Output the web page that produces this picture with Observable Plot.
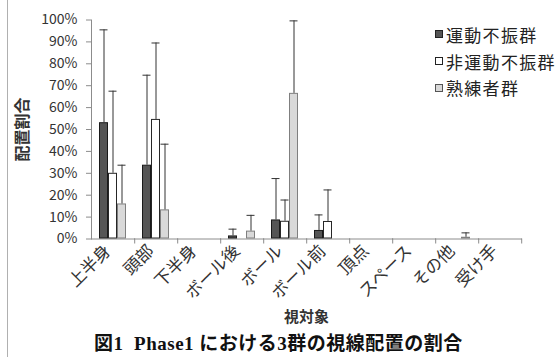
<!DOCTYPE html>
<html>
<head>
<meta charset="utf-8">
<script src="https://cdn.jsdelivr.net/npm/d3@7"></script>
<script src="https://cdn.jsdelivr.net/npm/@observablehq/plot@0.6"></script>
<style>
  html, body { margin: 0; padding: 0; background: #fff; }
  #wrap { position: relative; width: 557px; height: 357px; overflow: hidden; font-family: "Noto Sans CJK JP", "Noto Sans", sans-serif; }
  #edge { position: absolute; left: 7px; top: 0; width: 1px; height: 357px; background: #b0b0b0; }
  #chart { position: absolute; left: 0; top: 0; }
  #legend { position: absolute; left: 435px; top: 21px; font-size: 17px; letter-spacing: 1.3px; color: #222; white-space: nowrap; }
  #legend .item { display: flex; align-items: center; height: 26.7px; }
  #legend .sw { width: 8px; height: 8px; margin-right: 3px; box-sizing: border-box; flex: none; }
  #caption { position: absolute; left: 0; width: 557px; top: 328px; text-align: center; font-family: "Liberation Serif", "DejaVu Serif", "Noto Sans CJK JP", serif; font-weight: bold; font-size: 19px; letter-spacing: 0.5px; color: #111; white-space: nowrap; }
  g[aria-label="y-axis label"] text { font-weight: bold; font-size: 16px; }
  g[aria-label="fx-axis label"] text { font-weight: bold; font-family: "Liberation Serif", "Noto Sans CJK JP", serif; }
</style>
</head>
<body>
<div id="wrap">
  <div id="edge"></div>
  <div id="chart"></div>
  <div id="legend"></div>
  <div id="caption">図1&nbsp;&nbsp;Phase1 における3群の視線配置の割合</div>
</div>
<script>
const categories = ["上半身","頭部","下半身","ボール後","ボール","ボール前","頂点","スペース","その他","受け手"];
const groups = ["運動不振群","非運動不振群","熟練者群"];
// values in percent
const valuesG1 = [53.1, 33.7, 0, 1.4, 8.7, 3.9, 0, 0, 0, 0];
const valuesG2 = [30.0, 54.6, 0, 0, 8.1, 8.0, 0, 0, 0, 0];
const valuesG3 = [16.0, 13.3, 0, 3.6, 66.5, 0, 0, 0, 0.8, 0];
// upper error magnitudes in percent
const errorsG1 = [42.4, 41.1, 0, 3.1, 18.9, 7.1, 0, 0, 0, 0];
const errorsG2 = [37.5, 34.9, 0, 0, 9.7, 14.4, 0, 0, 0, 0];
const errorsG3 = [17.7, 30.0, 0, 7.2, 33.1, 0, 0, 0, 2.0, 0];
const yTicks = [0, 10, 20, 30, 40, 50, 60, 70, 80, 90, 100];
const fills = ["#555555", "#ffffff", "#d9d9d9"];
const strokes = ["#1a1a1a", "#262626", "#7f7f7f"];

const allValues = [valuesG1, valuesG2, valuesG3];
const allErrors = [errorsG1, errorsG2, errorsG3];
const rows = [];
groups.forEach((g, gi) => {
  categories.forEach((c, ci) => {
    rows.push({cat: c, group: g, gi, value: allValues[gi][ci], err: allErrors[gi][ci]});
  });
});
const nonzero = rows.filter(d => d.value > 0);
const withErr = rows.filter(d => d.value > 0 || d.err > 0);

const W = 557, H = 330, ML = 89, MR = 34;
const step = (W - ML - MR) / categories.length;

const plot = Plot.plot({
  width: W,
  height: H,
  marginLeft: ML,
  marginRight: MR,
  marginTop: 19.5,
  marginBottom: 91.5,
  style: {fontFamily: '"Noto Sans CJK JP", "Noto Sans", sans-serif', fontSize: "14px", color: "#222", background: "transparent"},
  fx: {domain: categories, padding: 0, axis: null},
  x: {domain: groups, paddingInner: 0, paddingOuter: 0.67, axis: null},
  y: {domain: [0, 100], axis: null},
  marks: [
    // zero-length rules in every facet so that no facet counts as empty
    Plot.ruleX(rows, {fx: "cat", x: "group", y1: "value", y2: "value", stroke: "none"}),
    Plot.frame({anchor: "bottom", stroke: "#8c8c8c"}),
    Plot.frame({anchor: "left", stroke: "#8c8c8c", facetAnchor: "left"}),
    ...groups.map((g, gi) => Plot.barY(nonzero.filter(d => d.gi === gi), {
      fx: "cat", x: "group", y: "value",
      fill: fills[gi], stroke: strokes[gi], strokeWidth: 1, inset: 0.5
    })),
    Plot.ruleX(withErr, {fx: "cat", x: "group", y1: "value", y2: d => d.value + d.err, stroke: "#333", strokeWidth: 1}),
    Plot.tickY(withErr, {fx: "cat", x: "group", y: d => d.value + d.err, stroke: "#333", strokeWidth: 1, insetLeft: 0.5, insetRight: 0.5}),
    Plot.axisY({
      ticks: yTicks, tickFormat: d => d + "%", tickSize: 5, tickPadding: 9,
      stroke: "#8c8c8c", fill: "#333", fontSize: 14,
      label: "配置割合", labelAnchor: "center", labelArrow: "none", labelOffset: 75
    }),
    Plot.axisFx({
      anchor: "bottom", tickSize: 5, dx: step / 2, stroke: "#8c8c8c", text: null, label: null
    }),
    Plot.axisFx({
      anchor: "bottom", tickSize: 0, tickRotate: -45, tickPadding: 9, dx: -5, fill: "#333", fontSize: 17,
      label: "視対象", labelAnchor: "center", labelArrow: "none", labelOffset: 83
    })
  ]
});
document.getElementById("chart").appendChild(plot);

const fxLabel = plot.querySelector('g[aria-label="fx-axis label"] text');
if (fxLabel) { fxLabel.style.fontSize = "15px"; }

const legend = document.getElementById("legend");
groups.forEach((g, gi) => {
  const item = document.createElement("div");
  item.className = "item";
  const sw = document.createElement("span");
  sw.className = "sw";
  sw.style.background = fills[gi];
  sw.style.border = "1px solid " + (gi === 2 ? "#555" : "#222");
  const t = document.createElement("span");
  t.textContent = g;
  item.appendChild(sw);
  item.appendChild(t);
  legend.appendChild(item);
});
</script>
</body>
</html>
